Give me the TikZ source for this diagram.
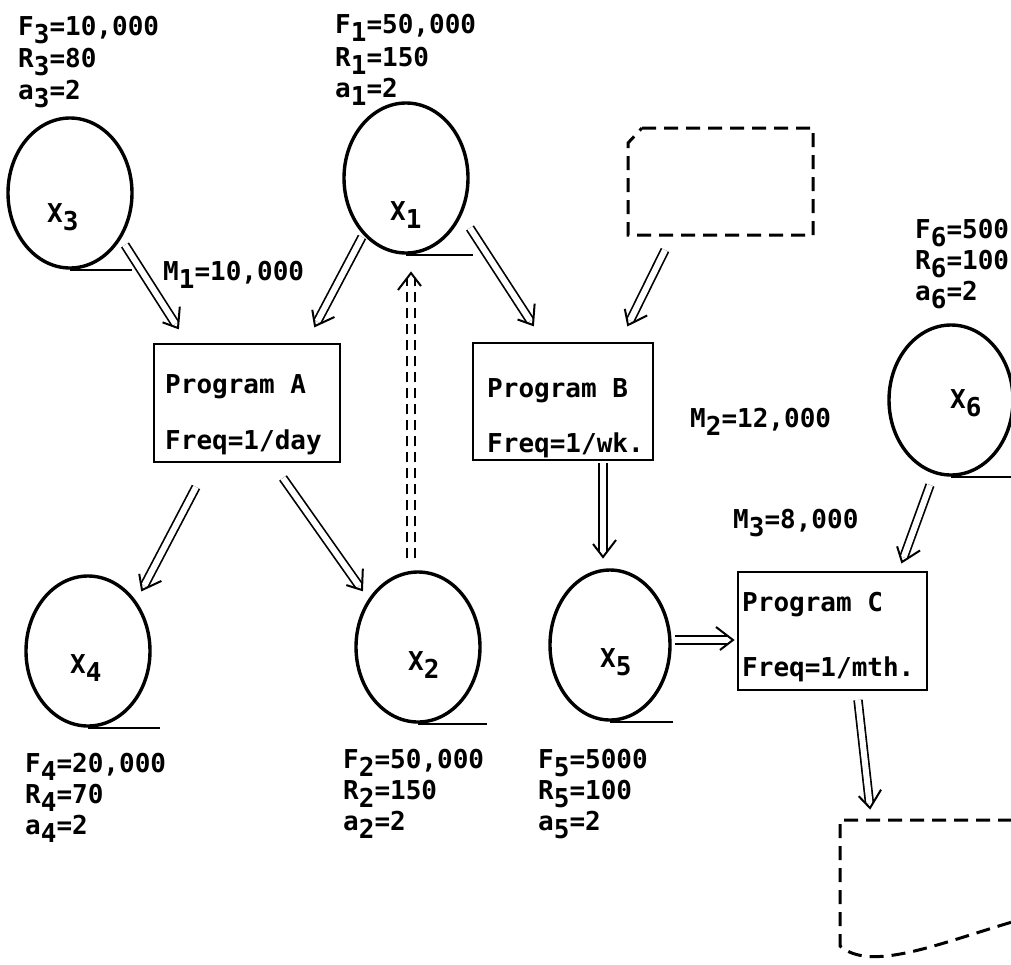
\documentclass[tikz,border=0pt]{standalone}
\usepackage{fontspec}
\setmainfont{DejaVu Sans Mono}
\newfontfamily\tw{DejaVu Sans Mono Bold}
\usetikzlibrary{shapes.geometric,arrows.meta,calc,decorations.markings}
\newcommand{\dn}[1]{\raisebox{-8pt}{#1}}
\begin{document}
\begin{tikzpicture}[x=1pt,y=1pt,
  tape/.style={ellipse,draw,line width=3.4pt,inner sep=0pt,minimum width=124pt,minimum height=150pt},
  prog/.style={rectangle,draw,line width=2.8pt,inner sep=0pt},
  txt/.style={anchor=base west,inner sep=0pt,font=\tw\fontsize{26}{30}\selectfont},
  vhead/.style={postaction={decorate,decoration={markings,mark=at position 1 with {\draw[solid,line width=2pt,line join=miter] (-17pt,13pt) -- (0pt,0pt) -- (-17pt,-13pt);}}}},
  dbl/.style={draw,double,double distance=6pt,line width=1.7pt,shorten >=5pt,vhead},
  dbldash/.style={dbl,dash pattern=on 10pt off 6pt},
  dashbox/.style={line width=3pt,dash pattern=on 14pt off 8pt},
  tapeline/.style={line width=2.4pt}]
\useasboundingbox (0,0) rectangle (1011,-964);
\clip (0,0) rectangle (1011,-964);
% tapes
\node[tape] (x3) at (70,-193) {};
\node[tape] (x1) at (406,-178) {};
\node[tape] (x6) at (951,-400) {};
\node[tape] (x4) at (88,-651) {};
\node[tape] (x2) at (418,-647) {};
\node[tape,minimum width=120pt] (x5) at (610,-645) {};
\draw[tapeline] (x3.south) -- ++(62,0);
\draw[tapeline] (x1.south) -- ++(67,0);
\draw[tapeline] (x6.south) -- ++(62,0);
\draw[tapeline] (x4.south) -- ++(72,0);
\draw[tapeline] (x2.south) -- ++(69,0);
\draw[tapeline] (x5.south) -- ++(63,0);
% tape labels
\node[txt] (lx3) at (47,-222) {X\dn{3}};
\node[txt] (lx1) at (390,-220) {X\dn{1}};
\node[txt] (lx6) at (950,-408) {X\dn{6}};
\node[txt] (lx4) at (70,-673) {X\dn{4}};
\node[txt] (lx2) at (408,-670) {X\dn{2}};
\node[txt] (lx5) at (600,-667) {X\dn{5}};
% programs
\node[prog,minimum width=186pt,minimum height=118pt] (pa) at (247,-403) {};
\node[prog,minimum width=180pt,minimum height=117pt] (pb) at (563,-401.5) {};
\node[prog,minimum width=189pt,minimum height=118pt] (pc) at (832.5,-631) {};
\node[txt] (pa1) at (165,-393) {Program A};
\node[txt] (pa2) at (165,-449) {Freq=1/day};
\node[txt] (pb1) at (487,-397) {Program B};
\node[txt] (pb2) at (487,-452) {Freq=1/wk.};
\node[txt] (pc1) at (742,-611) {Program C};
\node[txt] (pc2) at (742,-676) {Freq=1/mth.};
% card (dashed)
\coordinate (card) at (720.5,-181.5);
\draw[dashbox] (642,-128) -- (813,-128) -- (813,-235) -- (628,-235) -- (628,-143) -- cycle;
% document (dashed)
\coordinate (doc) at (920,-890);
\draw[dashbox] (1012,-820) -- (840,-820) -- (840,-946) .. controls (870,-972) and (935,-945) .. (1012,-922);
% data labels
\node[txt] (f3) at (18,-35) {F\dn{3}=10,000};
\node[txt] (r3) at (18,-67) {R\dn{3}=80};
\node[txt] (a3) at (18,-99) {a\dn{3}=2};
\node[txt] (f1) at (335,-33) {F\dn{1}=50,000};
\node[txt] (r1) at (335,-66) {R\dn{1}=150};
\node[txt] (a1) at (335,-97) {a\dn{1}=2};
\node[txt] (f6) at (915,-238) {F\dn{6}=500};
\node[txt] (r6) at (915,-269) {R\dn{6}=100};
\node[txt] (a6) at (915,-300) {a\dn{6}=2};
\node[txt] (f4) at (25,-772) {F\dn{4}=20,000};
\node[txt] (r4) at (25,-803) {R\dn{4}=70};
\node[txt] (a4) at (25,-834) {a\dn{4}=2};
\node[txt] (f2) at (343,-768) {F\dn{2}=50,000};
\node[txt] (r2) at (343,-799) {R\dn{2}=150};
\node[txt] (a2) at (343,-830) {a\dn{2}=2};
\node[txt] (f5) at (538,-768) {F\dn{5}=5000};
\node[txt] (r5) at (538,-799) {R\dn{5}=100};
\node[txt] (a5) at (538,-830) {a\dn{5}=2};
\node[txt] (m1) at (163,-280) {M\dn{1}=10,000};
\node[txt] (m2) at (690,-427) {M\dn{2}=12,000};
\node[txt] (m3) at (733,-528) {M\dn{3}=8,000};
% connectors
\draw[dbl] ($(x3)+(55,-52)$) -- ($(pa)+(-69,75)$);
\draw[dbl] ($(x1)+(-44,-59)$) -- ($(pa)+(68,77)$);
\draw[dbl] ($(x1)+(64,-50)$) -- ($(pb)+(-30,76.5)$);
\draw[dbl] ($(card)+(-55.5,-68.5)$) -- ($(pb)+(65,76.5)$);
\draw[dbl] ($(pa)+(-51,-84)$) -- ($(x4)+(54,61)$);
\draw[dbl] ($(pa)+(36,-75)$) -- ($(x2)+(-56,57)$);
\draw[dbldash] ($(x2)+(-7,89)$) -- ($(x1)+(5,-95)$);
\draw[dbl] ($(pb)+(40,-61.5)$) -- ($(x5)+(-7,88)$);
\draw[dbl] ($(x5)+(65,5)$) -- ($(pc)+(-99.5,-9)$);
\draw[dbl] ($(x6)+(-21,-85)$) -- ($(pc)+(69.5,69)$);
\draw[dbl] ($(pc)+(25.5,-69)$) -- ($(doc)+(-50,82)$);
\end{tikzpicture}
\end{document}
